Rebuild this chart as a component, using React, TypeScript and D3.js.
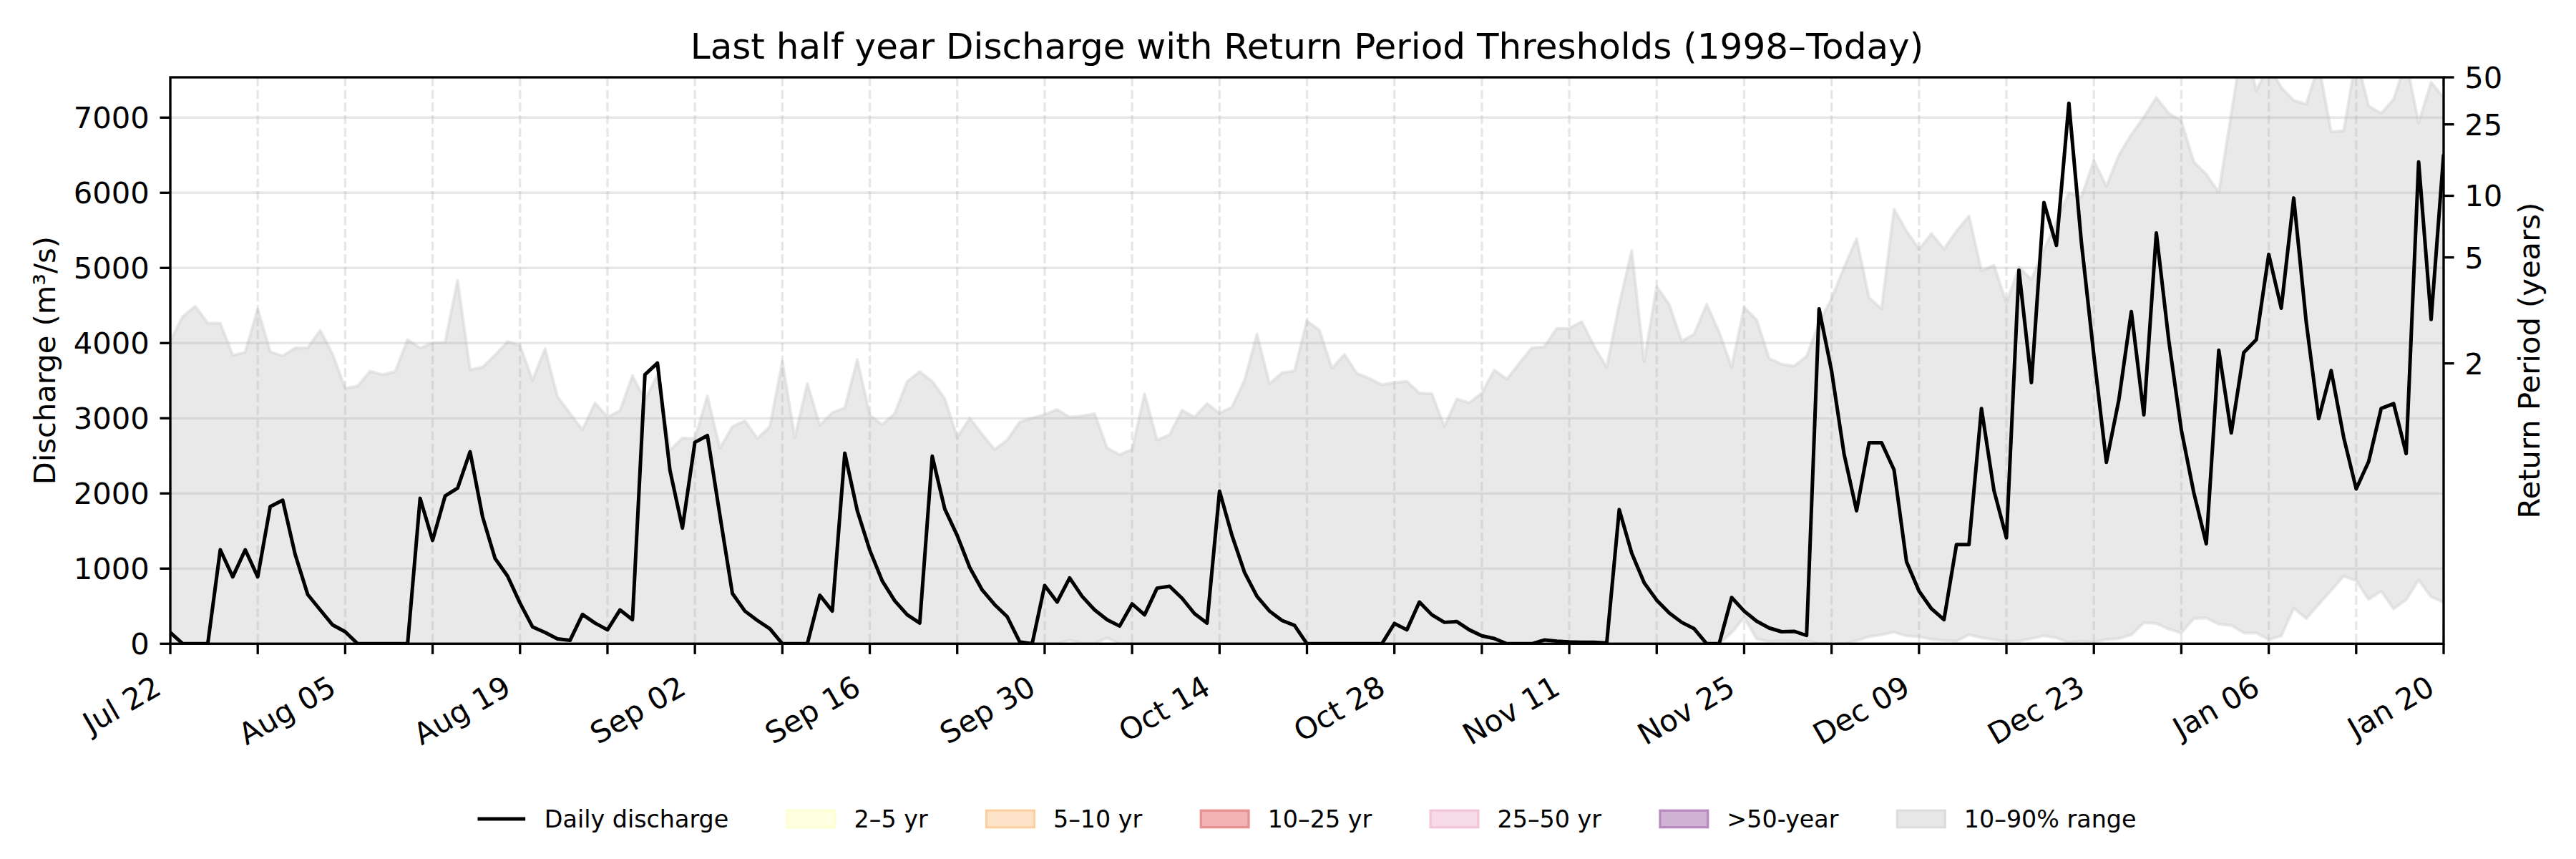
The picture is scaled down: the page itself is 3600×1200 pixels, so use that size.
import React, { useEffect } from 'react';
import * as d3 from 'd3';

// daily series, Jul 22 -> Jan 20 (one value per day)
const START_DATE = new Date(2024, 6, 22);
const END_DATE = new Date(2025, 0, 20);

// observed daily discharge (m3/s)
const DISCHARGE = [
  150, 0, 0, 0, 1250, 890, 1250, 890, 1825, 1910,
  1185, 655, 450, 250, 160, 0, 0, 0, 0, 0,
  1935, 1375, 1965, 2070, 2555, 1690, 1135, 900, 540, 225,
  150, 65, 45, 390, 275, 185, 450, 320, 3580, 3735,
  2310, 1540, 2680, 2770, 1710, 670, 435, 310, 200, 0,
  0, 0, 645, 435, 2535, 1770, 1245, 835, 570, 385,
  275, 2495, 1795, 1440, 1015, 715, 520, 360, 25, 0,
  775, 555, 875, 630, 450, 320, 235, 530, 385, 740,
  765, 605, 400, 275, 2030, 1440, 950, 630, 435, 310,
  245, 0, 0, 0, 0, 0, 0, 0, 270, 185,
  555, 385, 285, 295, 185, 105, 70, 0, 0, 0,
  50, 35, 25, 20, 20, 10, 1785, 1205, 810, 580,
  410, 285, 200, 0, 0, 615, 435, 300, 210, 160,
  165, 110, 4455, 3630, 2525, 1770, 2675, 2675, 2315, 1090,
  700, 465, 320, 1320, 1320, 3130, 2040, 1410, 4970, 3475,
  5870, 5300, 7190, 5340, 3835, 2415, 3245, 4420, 3045, 5465,
  4030, 2845, 2010, 1330, 3905, 2805, 3875, 4045, 5180, 4465,
  5930, 4280, 2995, 3635, 2745, 2060, 2425, 3130, 3195, 2530,
  6410, 4315, 6510,
];

// climatology 90th percentile for the same calendar day (1998-today)
const P90 = [
  4025, 4355, 4490, 4265, 4265, 3835, 3880, 4455, 3885, 3830,
  3935, 3935, 4170, 3850, 3395, 3430, 3625, 3580, 3620, 4045,
  3935, 4000, 4010, 4835, 3645, 3680, 3840, 4020, 3965, 3505,
  3925, 3285, 3065, 2845, 3205, 3015, 3100, 3565, 3240, 3580,
  2575, 2735, 2730, 3295, 2600, 2890, 2965, 2730, 2890, 3755,
  2745, 3460, 2905, 3075, 3140, 3780, 3040, 2915, 3065, 3490,
  3620, 3490, 3260, 2745, 3000, 2785, 2585, 2710, 2950, 3000,
  3050, 3115, 3015, 3030, 3060, 2605, 2515, 2585, 3325, 2710,
  2780, 3105, 3015, 3195, 3065, 3150, 3505, 4120, 3460, 3605,
  3630, 4295, 4170, 3665, 3850, 3595, 3530, 3445, 3475, 3490,
  3335, 3325, 2890, 3255, 3205, 3335, 3640, 3520, 3730, 3935,
  3950, 4195, 4195, 4285, 3950, 3680, 4515, 5230, 3755, 4750,
  4515, 4025, 4120, 4515, 4145, 3680, 4475, 4310, 3795, 3720,
  3695, 3825, 4270, 4590, 5005, 5390, 4605, 4455, 5780, 5490,
  5250, 5455, 5250, 5490, 5690, 4960, 5035, 4530, 5010, 4845,
  5240, 5615, 5995, 5945, 6425, 6085, 6500, 6775, 7005, 7265,
  7055, 6955, 6410, 6245, 6005, 7050, 8100, 7355, 7700, 7400,
  7230, 7180, 7700, 6810, 6825, 7800, 7155, 7055, 7245, 7750,
  6930, 7470, 7265,
];

// climatology 10th percentile
const P10 = [
  0, 0, 0, 0, 0, 0, 0, 0, 0, 0,
  0, 0, 0, 0, 0, 0, 0, 0, 0, 0,
  0, 0, 0, 0, 0, 0, 0, 0, 0, 0,
  0, 0, 0, 0, 0, 0, 0, 0, 0, 0,
  0, 0, 0, 0, 0, 0, 0, 0, 0, 0,
  0, 0, 0, 0, 0, 0, 0, 0, 0, 0,
  0, 0, 0, 0, 0, 0, 0, 0, 0, 0,
  0, 0, 50, 0, 0, 80, 0, 0, 0, 0,
  0, 0, 0, 0, 0, 0, 0, 0, 0, 0,
  0, 0, 0, 0, 0, 0, 0, 0, 0, 0,
  0, 0, 0, 0, 0, 0, 0, 0, 0, 0,
  0, 0, 0, 0, 0, 0, 0, 0, 0, 0,
  0, 0, 0, 0, 0, 150, 350, 65, 30, 40,
  30, 40, 0, 0, 0, 40, 95, 120, 155, 105,
  95, 60, 45, 35, 120, 80, 55, 30, 35, 70,
  105, 80, 15, 35, 20, 55, 70, 120, 280, 270,
  195, 145, 335, 345, 260, 245, 145, 145, 55, 105,
  475, 335, 525, 710, 900, 840, 590, 700, 465, 585,
  850, 625, 550,
];

// return levels (m3/s) for the right-hand axis
const RETURN_PERIODS = [2, 5, 10, 25, 50];
const RETURN_LEVELS = [3730, 5140, 5960, 6910, 7536];

const LEGEND_LABELS = ['Daily discharge', '2–5 yr', '5–10 yr', '10–25 yr', '25–50 yr', '>50-year', '10–90% range'];
const LEGEND_KINDS = ['line', 'patch', 'patch', 'patch', 'patch', 'patch', 'patch'];
const LEGEND_FILLS = ['none', '#ffffe1', '#fde3c8', '#f1b3b3', '#f8dbe8', '#d1b4d5', '#e8e8e8'];
const LEGEND_EDGES = ['#000000', '#fefed2', '#fdd0a4', '#e89191', '#f3c4da', '#b88ac0', '#dddddd'];

const W = 3600;
const H = 1200;
const PT = 300 / 72; // matplotlib points -> px at 300 dpi
const PLOT = { left: 238, right: 3415, top: 108, bottom: 899.3 };
const FONT = "'DejaVu Sans', 'Liberation Sans', sans-serif";
const GRID = { stroke: '#b0b0b0', opacity: 0.3, width: 0.8 * PT };
const LEGEND_SPAN = 2318; // handle of first entry to end of last label

const measureCtx = typeof document !== 'undefined' ? document.createElement('canvas').getContext('2d') : null;
function textWidth(s: string, size: number) {
  if (!measureCtx) return s.length * size * 0.6;
  measureCtx.font = `${size}px 'DejaVu Sans'`;
  return measureCtx.measureText(s).width;
}

export default function App() {
  useEffect(() => {
    document.body.style.margin = '0';
  }, []);

  const dates = d3.timeDay.range(START_DATE, d3.timeDay.offset(END_DATE, 1));

  const x = d3.scaleTime().domain([START_DATE, END_DATE]).range([PLOT.left, PLOT.right]);
  const y = d3.scaleLinear()
    .domain([0, RETURN_LEVELS[RETURN_LEVELS.length - 1]])
    .range([PLOT.bottom, PLOT.top]);

  const linePath = d3.line<number>()
    .x((_, i) => x(dates[i]))
    .y(d => y(d))(DISCHARGE);

  const bandPath = d3.area<number>()
    .x((_, i) => x(dates[i]))
    .y0((_, i) => y(P10[i]))
    .y1(d => y(d))(P90);

  const weekTicks = d3.timeMonday.range(START_DATE, d3.timeDay.offset(END_DATE, 1));
  const fmt = d3.timeFormat('%b %d');
  const yTicks = y.ticks(8).filter(t => t <= 7000);

  const tickFs = 10 * PT;
  const tickLen = 3.5 * PT;
  const tickPad = 3.5 * PT;
  const spineW = 0.8 * PT;

  // legend layout (matplotlib-like spacing)
  const legFs = 8 * PT;
  const handleLen = 2 * legFs;
  const handlePad = 0.8 * legFs;
  const widths = LEGEND_LABELS.map(l => textWidth(l, legFs));
  const itemsW = widths.reduce((s, w) => s + handleLen + handlePad + w, 0);
  const colSpace = Math.max(2 * legFs, (LEGEND_SPAN - itemsW) / (LEGEND_LABELS.length - 1));
  const total = itemsW + colSpace * (LEGEND_LABELS.length - 1);
  const legCx = (PLOT.left + PLOT.right) / 2;
  const legY = 1144;
  let cursor = legCx - total / 2;
  const legendItems = LEGEND_LABELS.map((label, i) => {
    const x0 = cursor;
    cursor += handleLen + handlePad + widths[i] + colSpace;
    return { label, x0, kind: LEGEND_KINDS[i], fill: LEGEND_FILLS[i], edge: LEGEND_EDGES[i] };
  });

  const midY = (PLOT.top + PLOT.bottom) / 2;

  return (
    <svg
      width={W}
      height={H}
      viewBox={`0 0 ${W} ${H}`}
      style={{ position: 'absolute', left: 0, top: 0, background: '#ffffff', fontFamily: FONT }}
    >
      <defs>
        <clipPath id="plot-clip">
          <rect x={PLOT.left} y={PLOT.top} width={PLOT.right - PLOT.left} height={PLOT.bottom - PLOT.top} />
        </clipPath>
      </defs>
      <rect x={0} y={0} width={W} height={H} fill="#ffffff" />

      {/* 10-90% range */}
      <g clipPath="url(#plot-clip)">
        <path
          d={bandPath || ''}
          fill="#d3d3d3"
          fillOpacity={0.5}
          stroke="#d3d3d3"
          strokeOpacity={0.5}
          strokeWidth={1.0 * PT}
          strokeLinejoin="round"
        />
      </g>

      {/* grid */}
      <g>
        {yTicks.map(t => (
          <line key={'gy' + t} x1={PLOT.left} x2={PLOT.right} y1={y(t)} y2={y(t)}
            stroke={GRID.stroke} strokeOpacity={GRID.opacity} strokeWidth={GRID.width} />
        ))}
        {weekTicks.map(d => (
          <line key={'gx' + d.getTime()} x1={x(d)} x2={x(d)} y1={PLOT.top} y2={PLOT.bottom}
            stroke={GRID.stroke} strokeOpacity={GRID.opacity} strokeWidth={GRID.width}
            strokeDasharray={`${3.7 * 0.8 * PT},${1.6 * 0.8 * PT}`} />
        ))}
      </g>

      {/* daily discharge */}
      <g clipPath="url(#plot-clip)">
        <path d={linePath || ''} fill="none" stroke="#000000" strokeWidth={1.2 * PT} strokeLinejoin="round" />
      </g>

      {/* spines */}
      <rect x={PLOT.left} y={PLOT.top} width={PLOT.right - PLOT.left} height={PLOT.bottom - PLOT.top}
        fill="none" stroke="#000000" strokeWidth={spineW} />

      {/* left axis */}
      <g fontSize={tickFs} fill="#000000">
        {yTicks.map(t => (
          <g key={'yl' + t}>
            <line x1={PLOT.left - tickLen} x2={PLOT.left} y1={y(t)} y2={y(t)} stroke="#000000" strokeWidth={spineW} />
            <text x={PLOT.left - tickLen - tickPad} y={y(t)} dy="0.36em" textAnchor="end">{t}</text>
          </g>
        ))}
      </g>
      <text
        transform={`translate(77,${midY}) rotate(-90)`}
        textAnchor="middle"
        fontSize={tickFs}
      >
        Discharge (m³/s)
      </text>

      {/* right axis: return periods */}
      <g fontSize={tickFs} fill="#000000">
        {RETURN_LEVELS.map((lvl, i) => (
          <g key={'rp' + RETURN_PERIODS[i]}>
            <line x1={PLOT.right} x2={PLOT.right + tickLen} y1={y(lvl)} y2={y(lvl)} stroke="#000000" strokeWidth={spineW} />
            <text x={PLOT.right + tickLen + tickPad} y={y(lvl)} dy="0.36em" textAnchor="start">{RETURN_PERIODS[i]}</text>
          </g>
        ))}
      </g>
      <text
        transform={`translate(3549,${midY}) rotate(-90)`}
        textAnchor="middle"
        fontSize={tickFs}
      >
        Return Period (years)
      </text>

      {/* bottom axis */}
      <g fontSize={tickFs}>
        {weekTicks.map((d, i) => (
          <g key={'xt' + d.getTime()}>
            <line x1={x(d)} x2={x(d)} y1={PLOT.bottom} y2={PLOT.bottom + tickLen} stroke="#000000" strokeWidth={spineW} />
            {i % 2 === 0 && (
              <text
                transform={`translate(${x(d) - 10},968) rotate(-30)`}
                textAnchor="end"
              >
                {fmt(d)}
              </text>
            )}
          </g>
        ))}
      </g>

      {/* title */}
      <text x={(PLOT.left + PLOT.right) / 2} y={82} textAnchor="middle" fontSize={12 * PT}>
        Last half year Discharge with Return Period Thresholds (1998–Today)
      </text>

      {/* legend */}
      <g fontSize={legFs}>
        {legendItems.map(item => (
          <g key={item.label}>
            {item.kind === 'line' ? (
              <line x1={item.x0} x2={item.x0 + handleLen} y1={legY} y2={legY} stroke={item.edge} strokeWidth={1.2 * PT} />
            ) : (
              <rect x={item.x0} y={legY - 0.35 * legFs} width={handleLen} height={0.7 * legFs}
                fill={item.fill} stroke={item.edge} strokeWidth={0.8 * PT} />
            )}
            <text x={item.x0 + handleLen + handlePad} y={legY} dy="0.36em">{item.label}</text>
          </g>
        ))}
      </g>
    </svg>
  );
}
